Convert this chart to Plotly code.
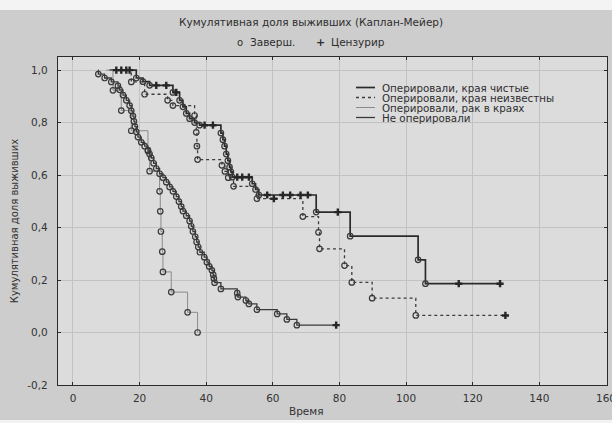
import plotly.graph_objects as go

# ---------------- data ----------------
x_ticks = [0, 20, 40, 60, 80, 100, 120, 140, 160]
y_ticks = [-0.2, 0.0, 0.2, 0.4, 0.6, 0.8, 1.0]
y_tick_labels = ["-0,2", "0,0", "0,2", "0,4", "0,6", "0,8", "1,0"]

names = ["Оперировали, края чистые", "Оперировали, края неизвестны",
         "Оперировали, рак в краях", "Не оперировали"]

# status: s = start, e = завершённое наблюдение (o), c = цензурированное (+)
g1_time = [11, 13, 14.5, 17, 19, 21, 23, 25, 28, 30, 31, 32, 33, 34, 35, 36.5, 38, 39.5, 42,
           44.4, 45, 45.5, 46, 46.5, 47, 47.4, 47.8, 49.3, 50.8, 52.8, 53.8, 54.8, 55.8,
           58.3, 63, 65.2, 68.3, 70.5, 73, 79.5, 83.2, 103.6, 105.8, 115.8, 128.2]
g1_surv = [1, 1, 1, 1, 0.97, 0.956, 0.942, 0.942, 0.942, 0.915, 0.915, 0.885, 0.86, 0.835, 0.815,
           0.80, 0.79, 0.79, 0.79, 0.76, 0.735, 0.71, 0.68, 0.655, 0.63, 0.612, 0.592, 0.592,
           0.592, 0.592, 0.567, 0.545, 0.524, 0.524, 0.524, 0.524, 0.524, 0.524, 0.459, 0.459,
           0.367, 0.277, 0.186, 0.186, 0.186]
g1_stat = ["s", "c", "c", "c", "e", "e", "e", "c", "c", "e", "c", "e", "e", "e", "e", "e", "e",
           "c", "c", "e", "e", "e", "e", "e", "e", "e", "e", "c", "c", "c", "e", "e", "e",
           "c", "c", "c", "c", "c", "e", "c", "e", "e", "e", "c", "c"]

g2_time = [11, 16, 17.5, 21.5, 28.4, 30, 36.5, 37, 37.2, 37.4, 44.7, 45.6, 46.6, 48.2, 55.2,
           60.3, 69, 73.7, 74, 81.5, 83.7, 89.8, 102.9, 129.8]
g2_surv = [1, 1, 0.955, 0.908, 0.885, 0.865, 0.827, 0.763, 0.71, 0.659, 0.637, 0.614, 0.59,
           0.557, 0.51, 0.51, 0.442, 0.382, 0.319, 0.255, 0.191, 0.131, 0.065, 0.065]
g2_stat = ["s", "c", "e", "e", "e", "e", "e", "e", "e", "e", "e", "e", "e", "e", "e",
           "c", "e", "e", "e", "e", "e", "e", "e", "c"]

g3_time = [10, 12, 14.5, 17.5, 22.5, 23, 26, 26.2, 26.4, 26.8, 27, 29.5, 34.4, 37.4]
g3_surv = [1, 0.923, 0.846, 0.769, 0.692, 0.615, 0.538, 0.462, 0.385, 0.308, 0.231, 0.154,
           0.077, 0.0]
g3_stat = ["s"] + ["e"] * 13

g4_time = [7.5, 7.6, 9.5, 11.5, 13.5, 14, 15, 16, 17, 17.5, 18, 18.3, 18.6, 19, 19.5, 20.5,
           21.5, 22.5, 23, 23.5, 24.2, 25, 26, 27, 28, 29, 30, 31, 31.8, 32.5, 33, 34, 35,
           35.5, 36, 36.7, 37.1, 37.6, 38.1, 39.4, 40.2, 40.9, 41.7, 42.1, 42.3, 42.5, 44.4,
           49.3, 49.5, 51.9, 52.8, 55.2, 61.3, 64.2, 67.2, 79]
g4_surv = [1.0, 0.985, 0.97, 0.955, 0.94, 0.925, 0.905, 0.885, 0.865, 0.845, 0.825, 0.805,
           0.785, 0.765, 0.745, 0.725, 0.71, 0.695, 0.68, 0.665, 0.645, 0.625, 0.605, 0.59,
           0.573, 0.555, 0.538, 0.518, 0.499, 0.48, 0.463, 0.445, 0.425, 0.405, 0.385, 0.365,
           0.345, 0.326, 0.306, 0.287, 0.268, 0.252, 0.237, 0.22, 0.206, 0.19, 0.166, 0.15,
           0.135, 0.122, 0.109, 0.087, 0.071, 0.05, 0.028, 0.028]
g4_stat = ["s"] + ["e"] * 54 + ["c"]

groups = [(g1_time, g1_surv, g1_stat), (g2_time, g2_surv, g2_stat),
          (g3_time, g3_surv, g3_stat), (g4_time, g4_surv, g4_stat)]

# ---------------- styles ----------------
FONT = "DejaVu Sans, Liberation Sans, Arial, sans-serif"
TXT = "#2e2e2e"
line_styles = [dict(color="#2b2b2b", width=1.7, dash="solid"),
               dict(color="#3c3c3c", width=1.3, dash="dot"),
               dict(color="#8a8a8a", width=1.0, dash="solid"),
               dict(color="#3a3a3a", width=1.3, dash="solid")]

W, H = 612, 423
ML, MR, MT, MB = 58, 5, 57, 38
PW, PH = W - ML - MR, H - MT - MB


def px(xp):
    return (xp - ML) / PW


def py(yp):
    return 1 - (yp - MT) / PH


fig = go.Figure()

for (t, s, st), nm, ls in zip(groups, names, line_styles):
    fig.add_trace(go.Scatter(x=t, y=s, mode="lines", line=dict(shape="hv", **ls),
                             name=nm, showlegend=False, hoverinfo="skip"))

for (t, s, st), nm in zip(groups, names):
    ex = [a for a, k in zip(t, st) if k == "e"]
    ey = [b for b, k in zip(s, st) if k == "e"]
    cx = [a for a, k in zip(t, st) if k == "c"]
    cy = [b for b, k in zip(s, st) if k == "c"]
    fig.add_trace(go.Scatter(x=ex, y=ey, mode="markers", showlegend=False, name=nm,
                             marker=dict(symbol="circle-open", size=5.5, color="#3a3a3a",
                                         line=dict(width=1.2, color="#3a3a3a"))))
    fig.add_trace(go.Scatter(x=cx, y=cy, mode="markers", showlegend=False, name=nm,
                             marker=dict(symbol="cross", size=6, color="#262626",
                                         line=dict(width=0))))

shapes = []
# light strips at top and bottom of the scan
shapes.append(dict(type="rect", xref="paper", yref="paper", x0=px(0), x1=px(W),
                   y0=py(10), y1=py(0), fillcolor="#f3f3f3", line=dict(width=0), layer="below"))
shapes.append(dict(type="rect", xref="paper", yref="paper", x0=px(0), x1=px(W),
                   y0=py(H), y1=py(420), fillcolor="#f3f3f3", line=dict(width=0), layer="below"))

# manual legend (rows are tighter than Plotly's own legend allows)
annotations = []
leg_y = [87.5, 97.5, 107.5, 117.5]
for yy, nm, ls in zip(leg_y, names, line_styles):
    shapes.append(dict(type="line", xref="paper", yref="paper", x0=px(356), x1=px(375),
                       y0=py(yy), y1=py(yy),
                       line=dict(color=ls["color"], width=ls["width"], dash=ls["dash"])))
    annotations.append(dict(xref="paper", yref="paper", x=px(380), y=py(yy), text=nm,
                            showarrow=False, xanchor="left", yanchor="middle",
                            font=dict(size=10.3, color=TXT, family=FONT)))

annotations.append(dict(xref="paper", yref="paper", x=px(311), y=py(22),
                        text="Кумулятивная доля выживших (Каплан-Мейер)", showarrow=False,
                        xanchor="center", yanchor="middle",
                        font=dict(size=10.5, color=TXT, family=FONT)))
annotations.append(dict(xref="paper", yref="paper", x=px(240), y=py(42),
                        text="o", showarrow=False, xanchor="center", yanchor="middle",
                        font=dict(size=10, color=TXT, family=FONT)))
annotations.append(dict(xref="paper", yref="paper", x=px(248), y=py(42),
                        text="Заверш.", showarrow=False, xanchor="left", yanchor="middle",
                        font=dict(size=10.5, color=TXT, family=FONT)))
annotations.append(dict(xref="paper", yref="paper", x=px(320), y=py(42),
                        text="<b>+</b>", showarrow=False, xanchor="center", yanchor="middle",
                        font=dict(size=11, color=TXT, family=FONT)))
annotations.append(dict(xref="paper", yref="paper", x=px(329), y=py(42),
                        text="Цензурир", showarrow=False, xanchor="left", yanchor="middle",
                        font=dict(size=10.5, color=TXT, family=FONT)))
# x-axis title placed explicitly
annotations.append(dict(xref="paper", yref="paper", x=px(306), y=py(411),
                        text="Время", showarrow=False, xanchor="center", yanchor="middle",
                        font=dict(size=10.5, color="#333333", family=FONT)))

axis_common = dict(showline=True, linecolor="#2a2a2a", linewidth=1.3, mirror="ticks",
                   ticks="inside", ticklen=3, tickcolor="#2a2a2a", showgrid=True,
                   gridcolor="#c2c2c2", gridwidth=1, zeroline=False, automargin=False,
                   tickfont=dict(size=10.5, color="#333333", family=FONT))

fig.update_layout(
    width=W, height=H,
    margin=dict(l=ML, r=MR, t=MT, b=MB),
    paper_bgcolor="#cdcdcd", plot_bgcolor="#dcdcdc",
    font=dict(family=FONT, color="#333333"),
    xaxis=dict(range=[-4.5, 160.3], tickvals=x_ticks, ticklabelstandoff=3,
               ticklabeloverflow="allow", **axis_common),
    yaxis=dict(range=[-0.2, 1.05], tickvals=y_ticks, ticktext=y_tick_labels,
               ticklabelstandoff=7,
               title=dict(text="Кумулятивная доля выживших",
                          font=dict(size=10, color="#333333", family=FONT), standoff=6),
               **axis_common),
    shapes=shapes, annotations=annotations, showlegend=False,
)

# remove the browser's default 8px body margin so the figure fills the window exactly
fig.write_html("out.html", config={"displayModeBar": False},
               post_script="document.body.style.margin='0';document.body.style.padding='0';")
